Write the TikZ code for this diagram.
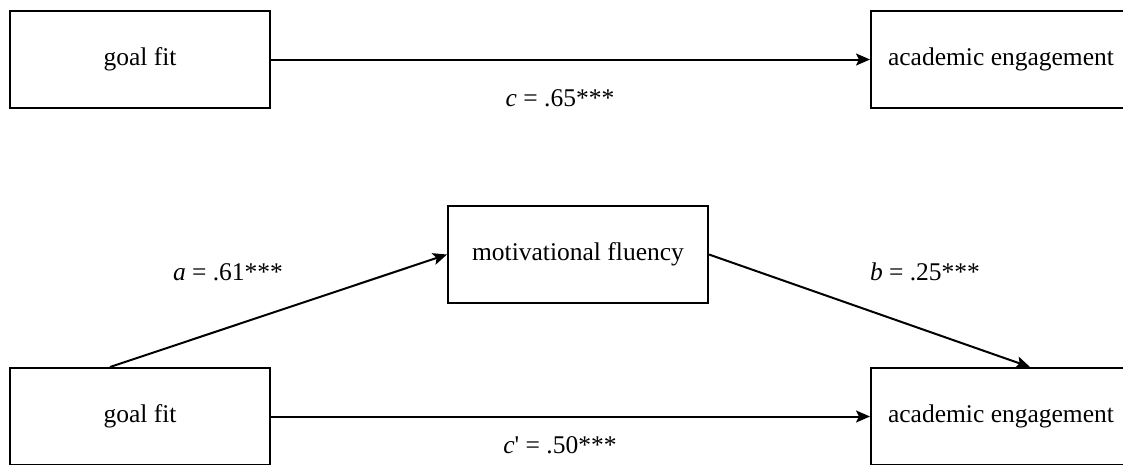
\documentclass[tikz,border=0pt]{standalone}
\usepackage{fontspec}
\setmainfont{Liberation Serif}
\usetikzlibrary{arrows.meta}
% straight apostrophe used as a prime
\newcommand{\primemark}{{\addfontfeatures{Ligatures=TeXOff}'}}
\begin{document}
\begin{tikzpicture}[x=1pt,y=-1pt,
  varbox/.style={draw, line width=2pt, minimum width=260pt, minimum height=97pt,
    inner sep=0pt, font=\fontsize{25.5}{30}\selectfont},
  path/.style={line width=2pt, -{Stealth[length=14pt,width=12pt,inset=3pt]}},
  coef/.style={font=\fontsize{25.5}{30}\selectfont, inner sep=0pt}]
  \useasboundingbox (0,0) rectangle (1123,464);
  \clip (0,0) rectangle (1123,464);
  \fill[white] (0,0) rectangle (1123,464);

  % total effect
  \node[varbox] (gf1) at (140,59.5) {goal fit};
  \node[varbox] (ae1) at (1001,59.5) {academic engagement};
  \draw[path] (gf1.east) -- (ae1.west);
  \node[coef] (lc) at (560,98) {\textit{c} = .65***};

  % mediation model
  \node[varbox] (mf) at (578,254.5) {motivational fluency};
  \node[varbox] (gf2) at (140,416.5) {goal fit};
  \node[varbox] (ae2) at (1001,416.5) {academic engagement};
  \draw[path] ([xshift=-30pt]gf2.north) -- (mf.west);
  \draw[path] (mf.east) -- ([xshift=29pt]ae2.north);
  \draw[path] (gf2.east) -- (ae2.west);
  \node[coef] (la) at (228,272) {\textit{a} = .61***};
  \node[coef] (lb) at (925,272) {\textit{b} = .25***};
  \node[coef] (lcp) at (560,445) {\textit{c}\primemark\ = .50***};
\end{tikzpicture}
\end{document}
